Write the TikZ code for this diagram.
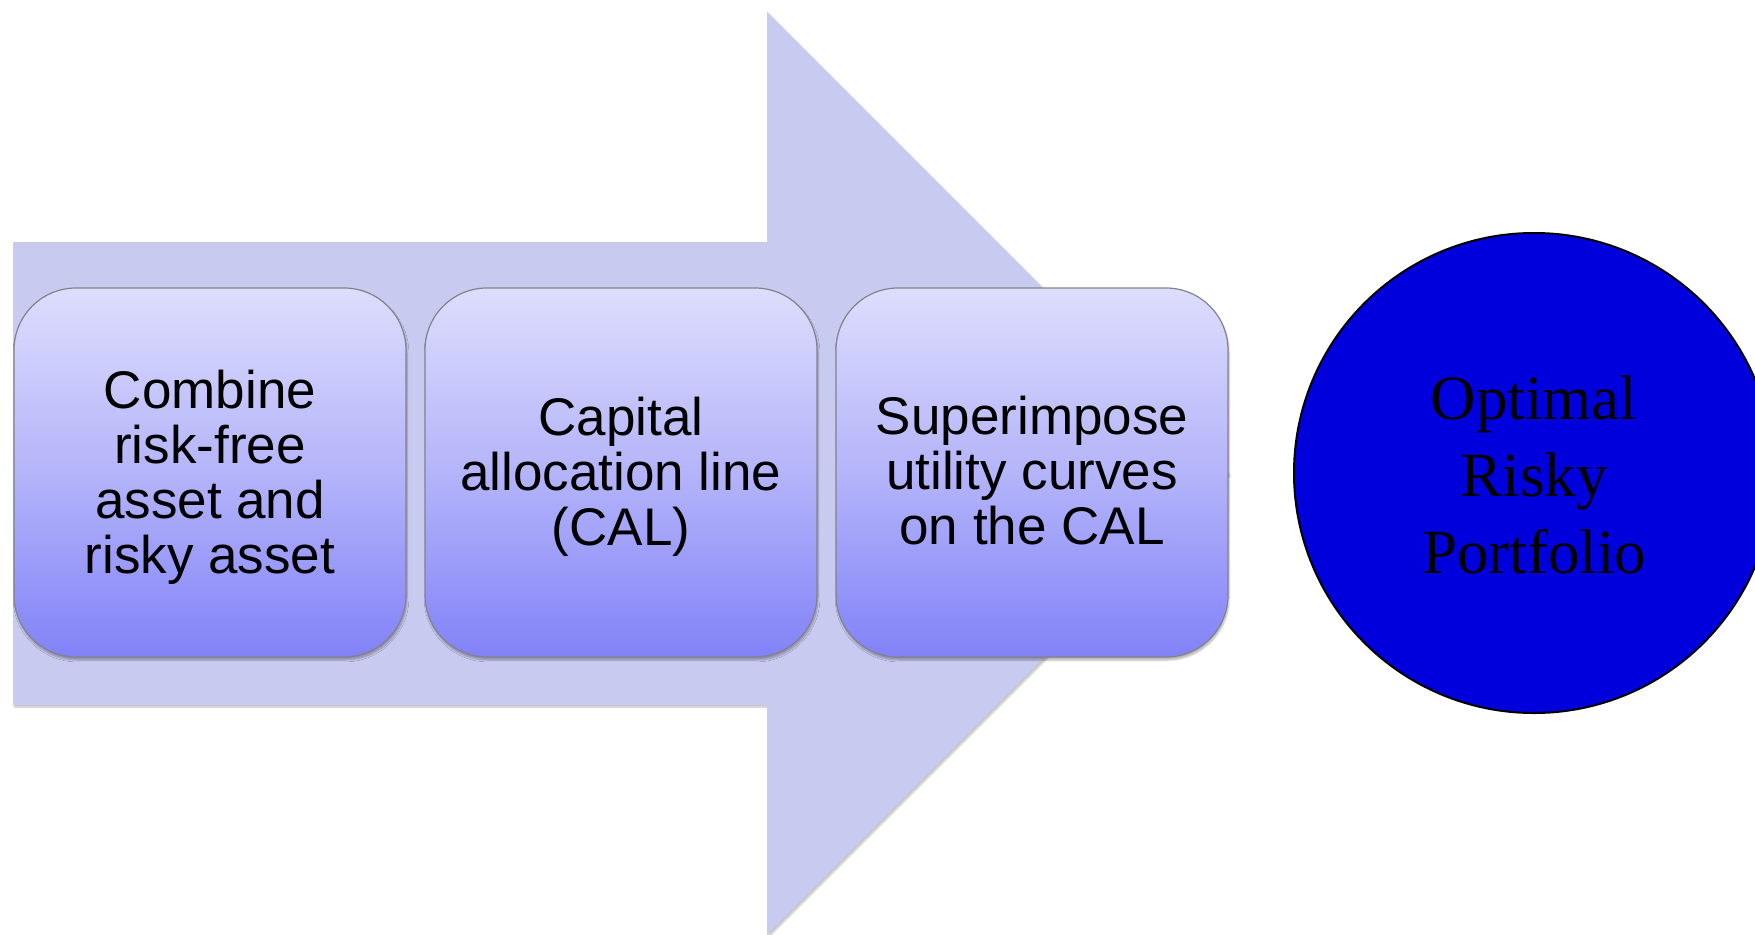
\documentclass[tikz,border=0pt]{standalone}
\usepackage{fontspec}
\setmainfont{Liberation Serif}
\setsansfont{Liberation Sans}
\usetikzlibrary{shadows.blur}

\definecolor{arrowfill}{RGB}{201,202,240}
\definecolor{boxtop}{RGB}{221,221,253}
\definecolor{boxmid}{RGB}{180,180,250}
\definecolor{boxbottom}{RGB}{130,130,248}
\definecolor{boxedge}{RGB}{130,130,140}
\definecolor{goalblue}{RGB}{0,0,220}

\tikzset{
  bigarrow/.style={fill=arrowfill, draw=none,
    blur shadow={shadow xshift=1.5pt, shadow yshift=-2pt, shadow blur steps=6, shadow opacity=25}},
  stepbox/.style={rounded corners=62pt, minimum width=392pt, minimum height=369pt,
    top color=boxtop, bottom color=boxbottom, middle color=boxmid,
    draw=boxedge, line width=1.2pt, inner sep=0pt,
    blur shadow={shadow xshift=1pt, shadow yshift=-3pt, shadow blur steps=6, shadow opacity=30}},
  steptext/.style={align=center, inner sep=0pt,
    font=\sffamily\fontsize{53}{55}\selectfont},
  goal/.style={circle, minimum size=480pt, fill=goalblue, draw=black, line width=2pt, inner sep=0pt},
  goaltext/.style={align=center, inner sep=0pt, font=\rmfamily\fontsize{63}{77}\selectfont}
}

\begin{document}
\begin{tikzpicture}[x=1pt,y=-1pt]
  \useasboundingbox (0,0) rectangle (1755,934);
  \clip (0,0) rectangle (1755,934);

  % background process arrow
  \path[bigarrow] (13,242) -- (767,242) -- (767,12) -- (1228.5,473.5)
    -- (767,935) -- (767,705) -- (13,705) -- cycle;

  % the three steps
  \node[stepbox] (combine) at (210,472.5) {};
  \node[steptext] (combinetext) at (210,477) {Combine\\risk-free\\asset and\\risky asset};
  \node[stepbox] (cal) at (621,472.5) {};
  \node[steptext] (caltext) at (621,477) {Capital\\allocation line\\(CAL)};
  \node[stepbox] (superimpose) at (1032,472.5) {};
  \node[steptext] (superimposetext) at (1032,471) {Superimpose\\utility curves\\on the CAL};

  % outcome
  \node[goal] (optimal) at (1534,473) {};
  \node[goaltext] (optimaltext) at (1534,475) {Optimal\\Risky\\Portfolio};
\end{tikzpicture}
\end{document}
